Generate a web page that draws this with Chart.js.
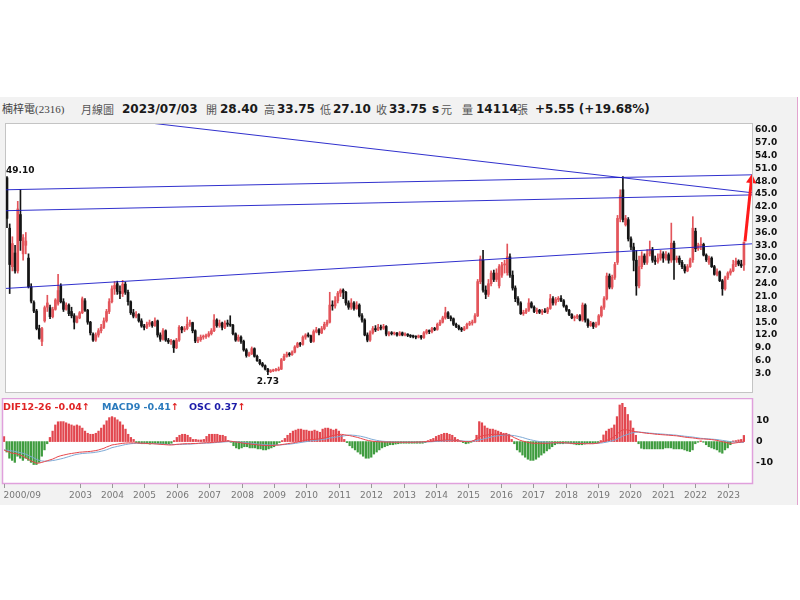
<!DOCTYPE html>
<html><head><meta charset="utf-8">
<script src="https://cdn.jsdelivr.net/npm/chart.js@4.4.1/dist/chart.umd.min.js"></script>
<style>
body{margin:0;background:#fff;width:800px;height:600px;position:relative;overflow:hidden;font-family:"DejaVu Sans",sans-serif}
#frame{position:absolute;left:0;top:97px;width:797px;height:408px;background:#f2f2f2;border-right:1px solid #e3a3cf}
.h{position:absolute;top:101px;font-size:12px;line-height:16px;white-space:nowrap;color:#1a1a1a}
.b{font-weight:bold;font-family:"DejaVu Sans"}
.c{font-family:"Noto Sans CJK TC";color:#555;font-size:11px}
canvas{position:absolute;left:0}
.lg{position:absolute;top:401px;font:bold 9.5px "DejaVu Sans";line-height:11px;white-space:nowrap}
</style></head>
<body>
<div id="frame"></div>
<span class="h" style="left:2px;font-size:11px;font-family:'Liberation Serif','Noto Sans CJK TC';color:#444">楠梓電(2316)</span>
<span class="h c" style="left:81px">月線圖</span>
<span class="h b" id="hDate" style="left:122px"></span>
<span class="h c" style="left:206px">開</span><span class="h b" id="hO" style="left:220px"></span>
<span class="h c" style="left:264px">高</span><span class="h b" id="hH" style="left:277px"></span>
<span class="h c" style="left:320px">低</span><span class="h b" id="hL" style="left:333px"></span>
<span class="h c" style="left:376px">收</span><span class="h b" id="hC" style="left:389px"></span>
<span class="h b" style="left:432px">s</span><span class="h c" style="left:441px">元</span>
<span class="h c" style="left:462px">量</span><span class="h b" id="hV" style="left:476px"></span>
<span class="h c" style="left:517px">張</span><span class="h b" id="hChg" style="left:535px"></span>
<canvas id="price" width="797" height="280" style="top:118px"></canvas>
<canvas id="macd" width="797" height="108" style="top:398px"></canvas>
<div class="lg" style="left:3px;color:#e02424"><span id="lDif"></span><span style="color:#e02424">↑</span></div>
<div class="lg" style="left:102px;color:#2b7bbd"><span id="lMacd"></span><span style="color:#e02424">↑</span></div>
<div class="lg" style="left:189px;color:#1a1aa8"><span id="lOsc"></span><span style="color:#e02424">↑</span></div>
<script>
// ---- data (monthly, 2000/09 .. 2023/07) ----
const quoteDate = '2023/07/03';
const volume = 14114;
const open = [48.8,37.0,28.0,31.2,
27.0,40.2,31.0,33.0,30.0,23.3,19.6,17.6,13.5,10.5,15.3,18.5,
18.4,16.3,18.0,19.4,23.5,19.8,18.0,19.0,17.5,16.5,15.0,16.0,
17.2,20.0,17.8,15.0,12.2,10.8,12.0,13.0,13.8,15.3,17.5,19.8,
22.8,24.0,22.2,21.7,23.9,22.0,19.8,17.2,16.4,16.8,15.3,14.1,
13.8,14.5,14.9,14.2,15.3,12.0,11.0,13.0,10.8,10.4,10.6,9.0,
10.8,13.8,13.2,13.5,14.5,14.9,13.0,10.6,10.9,11.5,11.6,11.8,
12.3,13.0,15.5,14.2,14.8,13.8,14.8,14.5,14.3,12.3,10.8,11.5,
10.5,8.5,7.2,7.6,8.8,7.0,6.0,5.3,4.8,4.0,3.4,3.6,
3.7,3.8,4.0,6.2,7.0,7.5,7.4,8.0,9.2,10.0,9.8,11.5,
12.0,11.8,10.5,12.8,13.2,12.5,13.5,14.5,15.0,19.0,18.8,20.0,
21.8,22.5,22.0,19.5,18.5,19.5,18.2,19.0,16.5,15.5,12.0,10.8,
12.5,13.5,13.2,13.8,13.6,14.0,12.2,12.5,12.3,12.4,12.0,12.5,
12.0,12.2,11.9,11.7,11.6,11.5,11.8,11.4,12.5,13.0,12.8,13.5,
13.3,14.5,15.0,16.0,17.2,16.2,15.8,14.5,14.0,13.5,13.2,13.6,
14.5,14.8,15.0,16.5,24.5,29.5,22.5,21.5,24.0,26.5,25.0,23.5,
26.0,28.4,26.6,30.3,26.0,23.0,20.5,19.5,17.0,17.3,17.8,19.5,
18.5,17.5,17.8,17.3,17.6,17.4,18.2,20.5,19.5,20.3,20.6,20.0,
18.8,17.8,16.8,16.0,16.2,16.5,15.5,19.0,15.5,14.2,14.8,14.0,
14.5,16.5,18.5,20.5,25.8,23.2,25.5,29.0,39.3,46.0,37.8,39.0,
34.5,32.6,29.5,23.5,28.0,30.5,29.0,31.0,32.0,29.5,29.2,30.0,
31.0,30.0,30.8,29.5,33.5,29.6,30.0,29.0,28.0,27.0,28.0,29.6,
36.3,32.2,33.0,33.2,30.7,29.0,30.0,28.0,26.2,26.8,24.7,22.8,
25.4,26.5,27.0,28.5,29.3,28.6,28.40];
const high = [49.1,38.0,35.0,33.0,
43.3,46.0,35.5,36.0,31.0,24.0,20.0,18.0,14.3,13.8,18.8,21.3,
19.0,18.5,20.5,26.2,24.0,20.5,19.5,19.3,18.5,17.0,16.5,17.5,
20.9,20.5,18.0,15.2,12.5,12.5,13.5,14.5,16.0,18.0,20.5,23.5,
24.5,24.6,23.5,24.8,24.4,22.5,20.0,18.0,17.5,17.0,15.8,14.5,
15.0,15.5,15.2,16.0,15.5,12.5,13.5,13.2,11.2,11.0,10.8,11.2,
14.2,14.0,14.0,16.2,15.5,15.0,13.2,11.5,12.0,12.0,12.2,12.8,
13.5,16.8,15.8,15.5,15.0,15.3,15.5,16.5,14.5,12.5,12.0,11.8,
10.8,8.8,8.0,9.2,9.0,7.3,6.3,5.6,5.0,4.2,3.9,4.0,
4.2,4.5,6.5,7.5,8.0,7.9,8.3,9.5,10.3,10.3,11.8,12.3,
12.5,12.0,13.2,13.8,13.5,14.0,15.0,15.5,22.0,20.0,21.0,22.2,
22.8,22.8,22.2,20.0,20.5,19.8,19.8,19.3,17.0,15.8,12.5,13.0,
14.0,14.2,14.5,14.3,14.5,14.2,12.8,12.8,12.7,12.6,12.8,12.7,
12.5,12.3,12.1,12.0,11.8,12.0,11.9,12.8,13.3,13.2,13.8,13.8,
14.8,15.5,16.4,18.5,17.5,16.5,16.0,14.8,14.3,13.8,14.0,14.8,
15.2,15.5,17.0,25.0,30.5,31.8,23.5,25.0,27.0,27.2,27.5,28.5,
29.0,29.5,33.3,31.0,27.0,23.5,21.0,19.8,17.8,18.2,20.5,19.8,
18.8,18.3,18.0,18.0,18.2,18.5,21.5,21.0,20.8,21.0,21.2,20.3,
19.0,18.0,17.0,16.5,16.8,16.8,19.5,19.3,15.8,15.2,15.0,15.0,
16.8,18.8,21.0,26.5,26.3,26.0,29.0,40.0,46.0,49.1,40.0,39.5,
35.0,33.5,31.8,30.5,31.5,31.0,32.0,34.0,32.5,30.5,31.0,31.8,
31.5,31.5,31.2,38.2,34.0,30.5,30.5,29.5,28.5,28.5,30.0,39.7,
37.0,33.5,34.8,33.5,31.0,30.5,30.3,28.3,27.5,27.0,25.0,25.8,
26.8,27.5,29.5,30.0,29.6,29.5,33.75];
const low = [37.1,21.7,27.0,26.5,
26.5,31.8,29.5,31.0,23.0,19.5,17.2,13.2,11.0,9.5,15.0,17.5,
15.8,16.0,17.8,19.0,19.5,17.5,17.8,16.5,16.0,13.4,14.8,15.8,
17.0,17.5,14.5,12.0,10.5,10.5,11.5,12.5,13.5,15.0,17.0,19.5,
21.5,21.5,20.5,21.0,21.5,19.0,16.8,16.0,16.0,15.0,13.8,13.2,
13.5,14.0,13.8,14.0,11.5,10.5,10.8,10.5,10.0,9.8,7.9,8.8,
10.5,12.5,12.8,13.2,14.0,12.5,10.2,10.2,10.5,11.0,11.2,11.5,
12.0,12.8,13.8,13.8,13.2,13.5,14.0,14.0,12.0,10.5,10.5,10.0,
8.2,6.8,7.0,7.4,6.8,5.8,5.0,4.5,3.8,2.73,3.2,3.4,
3.5,3.6,3.9,6.0,6.8,7.0,7.2,7.8,9.0,9.3,9.6,11.0,
11.5,10.2,10.3,12.5,12.0,12.3,13.2,14.0,14.8,17.8,18.3,19.5,
21.0,20.5,19.0,18.0,18.0,17.8,18.0,16.2,15.0,11.8,10.4,10.5,
12.2,12.8,13.0,13.2,13.3,11.8,11.8,12.0,12.0,11.7,11.8,11.8,
11.8,11.6,11.4,11.3,11.1,11.3,11.0,11.2,12.2,12.3,12.5,13.0,
13.1,14.2,14.8,15.7,15.8,15.3,14.2,13.7,13.2,12.8,13.0,13.4,
14.2,14.3,14.8,16.3,24.0,22.0,20.5,21.0,23.5,24.5,24.5,23.0,
25.5,26.5,26.0,25.5,22.5,19.8,19.0,16.8,16.6,17.0,17.5,18.3,
17.2,17.0,17.0,16.8,17.2,17.0,18.0,19.0,19.0,19.8,19.8,18.5,
17.5,16.5,15.8,15.3,15.8,15.3,15.2,15.0,13.8,14.0,13.5,13.8,
14.3,16.2,18.0,20.2,22.8,22.8,25.0,28.5,38.5,38.5,37.5,34.0,
32.0,27.0,21.3,23.0,27.5,28.5,28.5,30.5,29.0,28.5,28.8,29.5,
29.0,29.5,28.8,29.0,25.0,29.0,28.5,27.5,26.5,26.8,27.8,29.0,
31.5,31.8,32.0,30.5,29.2,28.5,27.8,26.0,25.8,24.5,21.3,22.5,
25.0,26.0,26.8,28.0,28.2,27.8,27.10];
const close = [39.3,28.5,33.4,27.0,
41.5,34.1,34.8,34.0,23.3,19.9,17.6,13.5,11.2,13.5,18.4,19.5,
16.3,18.0,20.2,22.4,19.8,18.0,19.0,17.0,16.5,15.0,16.2,17.2,
20.5,17.8,15.0,12.5,10.8,12.0,13.0,13.8,15.3,17.5,19.8,22.8,
23.6,22.2,21.7,23.9,22.0,19.8,17.2,16.4,16.8,15.3,14.1,13.8,
14.5,14.9,14.2,15.3,12.0,11.0,13.0,10.8,10.4,10.6,9.0,10.8,
13.8,13.2,13.5,14.5,14.9,13.0,10.6,10.9,11.5,11.6,11.8,12.3,
13.0,15.5,14.2,14.8,13.8,14.8,14.5,14.3,12.3,10.8,11.5,10.5,
8.5,7.2,7.6,8.8,7.0,6.0,5.3,4.8,4.0,3.4,3.6,3.7,
3.8,4.0,6.2,7.0,7.5,7.4,8.0,9.2,10.0,9.8,11.5,12.0,
11.8,10.5,12.8,13.2,12.5,13.5,14.5,15.0,19.0,18.8,20.0,21.8,
22.5,22.0,19.5,18.5,19.5,18.2,19.0,16.5,15.5,12.0,10.8,12.5,
13.5,13.2,13.8,13.6,14.0,12.2,12.5,12.3,12.4,12.0,12.5,12.0,
12.2,11.9,11.7,11.6,11.5,11.8,11.4,12.5,13.0,12.8,13.5,13.3,
14.5,15.0,16.0,17.2,16.2,15.8,14.5,14.0,13.5,13.2,13.6,14.5,
14.8,15.0,16.5,24.5,29.8,22.5,21.5,24.0,26.5,25.0,26.5,28.0,
28.4,28.5,30.3,26.0,23.0,20.5,19.5,17.0,17.3,17.8,19.5,18.5,
17.5,17.8,17.3,17.6,17.4,18.2,20.5,19.5,20.3,20.6,20.0,18.8,
17.8,16.8,16.0,16.2,16.5,15.5,19.0,15.5,14.2,14.8,14.0,14.5,
16.5,18.5,20.5,25.8,23.2,25.5,28.5,39.3,44.6,39.0,39.3,34.5,
32.6,29.5,23.5,28.0,30.5,29.0,31.0,32.0,29.5,29.2,30.0,31.0,
30.0,30.8,29.5,33.5,29.6,30.0,29.0,28.0,27.0,28.0,29.6,37.0,
32.2,33.0,33.2,30.7,29.6,30.0,28.0,26.2,26.8,24.7,22.8,25.4,
26.5,27.0,28.5,29.3,28.6,28.2,33.75];
const dif = [-4.0,-4.6,-5.0,-5.6,
-5.6,-6.0,-6.5,-7.0,-7.8,-8.5,-9.3,-9.8,-10.4,-10.3,-10.0,-9.6,
-9.2,-8.8,-8.4,-7.8,-7.2,-6.8,-6.5,-6.2,-5.9,-5.7,-5.5,-5.3,
-5.1,-5.0,-4.9,-4.8,-4.7,-4.5,-4.3,-4.0,-3.6,-3.2,-2.6,-2.1,
-1.6,-1.4,-1.2,-1.0,-0.8,-0.7,-0.6,-0.6,-0.6,-0.6,-0.7,-0.8,
-0.8,-0.9,-1.0,-1.0,-1.1,-1.2,-1.3,-1.4,-1.5,-1.6,-1.6,-1.5,
-1.3,-1.2,-1.1,-1.0,-1.0,-1.0,-0.9,-0.9,-0.8,-0.7,-0.6,-0.5,
-0.5,-0.4,-0.3,-0.2,-0.1,0.0,0.2,0.3,0.2,0.0,-0.2,-0.3,
-0.6,-0.8,-1.0,-1.1,-1.3,-1.4,-1.6,-1.7,-1.8,-1.9,-1.9,-1.9,
-1.8,-1.7,-1.6,-1.4,-1.2,-1.0,-0.8,-0.6,-0.4,-0.1,0.2,0.5,
0.8,0.9,1.0,1.1,1.2,1.4,1.6,1.9,2.3,2.7,3.0,3.2,
3.5,3.5,3.3,3.1,2.9,2.6,2.3,2.0,1.6,1.2,0.8,0.5,
0.3,0.1,0.0,-0.1,-0.1,-0.2,-0.2,-0.2,-0.3,-0.3,-0.3,-0.3,
-0.3,-0.3,-0.3,-0.3,-0.3,-0.2,-0.2,-0.1,0.0,0.0,0.1,0.2,
0.4,0.5,0.6,0.7,0.8,0.8,0.7,0.6,0.5,0.3,0.1,0.0,
0.0,0.1,0.6,1.3,2.4,2.7,3.0,3.2,3.4,3.5,3.5,3.5,
3.4,3.3,3.2,3.0,2.6,1.9,1.3,0.7,0.3,0.0,-0.4,-0.6,
-0.8,-0.8,-0.8,-0.8,-0.8,-0.8,-0.7,-0.6,-0.5,-0.5,-0.5,-0.5,
-0.6,-0.7,-0.8,-0.9,-0.9,-0.9,-0.9,-1.0,-1.0,-1.0,-1.0,-0.9,
-0.7,-0.3,0.0,0.5,1.0,1.5,2.5,3.5,4.8,5.6,5.7,5.6,
5.3,4.9,4.8,4.6,4.4,4.2,4.0,3.9,3.8,3.6,3.5,3.4,
3.3,3.2,3.1,3.0,2.9,2.8,2.6,2.4,2.2,2.0,1.9,1.8,
1.6,1.4,1.3,1.3,1.2,1.1,1.0,0.8,0.6,0.3,0.0,-0.3,
-0.6,-0.8,-0.8,-0.6,-0.4,-0.2,-0.04];
const macd9 = [-4.0,-4.1,-4.3,-4.5,
-4.7,-5.0,-5.3,-5.6,-6.0,-6.6,-7.2,-7.8,-8.5,-9.0,-9.3,-9.4,
-9.4,-9.3,-9.1,-8.9,-8.6,-8.3,-8.0,-7.6,-7.2,-6.8,-6.4,-6.1,
-5.9,-5.7,-5.6,-5.5,-5.4,-5.3,-5.1,-4.9,-4.6,-4.3,-3.9,-3.4,
-2.9,-2.6,-2.3,-2.0,-1.7,-1.4,-1.2,-1.0,-0.9,-0.8,-0.8,-0.8,
-0.8,-0.8,-0.9,-0.9,-1.0,-1.0,-1.1,-1.2,-1.3,-1.4,-1.4,-1.4,
-1.4,-1.4,-1.3,-1.3,-1.2,-1.2,-1.1,-1.0,-0.9,-0.8,-0.8,-0.7,
-0.7,-0.6,-0.5,-0.4,-0.3,-0.2,-0.1,0.0,0.0,0.0,-0.1,-0.2,
-0.3,-0.4,-0.6,-0.7,-0.9,-1.0,-1.2,-1.3,-1.4,-1.5,-1.6,-1.6,
-1.6,-1.6,-1.6,-1.5,-1.4,-1.3,-1.2,-1.0,-0.8,-0.6,-0.4,-0.2,
0.0,0.2,0.4,0.5,0.7,0.8,1.0,1.2,1.5,1.8,2.0,2.2,
2.4,2.6,2.8,3.0,3.2,3.1,3.0,2.8,2.6,2.3,2.0,1.6,
1.2,0.9,0.6,0.4,0.2,0.1,0.0,-0.1,-0.1,-0.2,-0.2,-0.2,
-0.2,-0.2,-0.2,-0.2,-0.2,-0.2,-0.2,-0.2,-0.2,-0.1,-0.1,0.0,
0.1,0.2,0.3,0.4,0.5,0.5,0.6,0.6,0.5,0.4,0.3,0.2,
0.2,0.2,0.3,0.5,0.8,1.1,1.4,1.7,2.1,2.4,2.6,2.8,
3.0,3.1,3.2,3.2,3.0,2.9,2.6,2.3,2.0,1.6,1.2,0.9,
0.6,0.3,0.1,-0.1,-0.2,-0.3,-0.4,-0.5,-0.5,-0.6,-0.6,-0.6,
-0.6,-0.7,-0.7,-0.8,-0.8,-0.8,-0.8,-0.9,-0.9,-0.9,-0.9,-0.9,
-0.8,-0.7,-0.5,-0.3,0.0,0.3,0.7,1.2,1.9,2.6,3.1,3.5,
4.0,4.3,4.5,4.6,4.5,4.4,4.3,4.1,4.0,3.9,3.8,3.7,
3.6,3.5,3.4,3.3,3.2,3.1,2.9,2.8,2.6,2.5,2.3,2.2,
2.0,1.8,1.6,1.5,1.4,1.3,1.2,1.1,1.0,0.8,0.6,0.4,
0.2,0.0,-0.2,-0.3,-0.4,-0.4,-0.41];
const osc = [0.30,-0.63,-1.00,-1.13,
-1.25,-0.88,-1.00,-1.13,-1.00,-1.13,-1.25,-1.38,-1.38,-1.25,-0.88,-0.50,
-0.13,0.25,0.63,1.00,1.19,1.20,1.20,1.13,1.06,1.00,0.94,1.00,
0.94,0.81,0.63,0.50,0.44,0.44,0.50,0.63,0.81,1.00,1.25,1.44,
1.50,1.44,1.31,1.19,1.00,0.75,0.44,0.25,0.13,-0.06,-0.10,-0.13,
-0.13,-0.13,-0.15,-0.13,-0.13,-0.13,-0.15,-0.15,-0.13,-0.13,-0.10,0.06,
0.25,0.38,0.44,0.44,0.38,0.25,0.13,0.13,0.10,0.10,0.13,0.31,
0.44,0.44,0.44,0.44,0.38,0.38,0.31,0.06,-0.04,-0.25,-0.38,-0.44,
-0.38,-0.31,-0.31,-0.38,-0.38,-0.38,-0.44,-0.44,-0.50,-0.50,-0.44,-0.38,
-0.31,-0.19,-0.06,0.06,0.19,0.38,0.50,0.63,0.69,0.75,0.75,0.69,
0.69,0.63,0.63,0.69,0.63,0.56,0.75,0.81,0.81,0.75,0.69,0.75,
0.63,0.38,0.13,-0.06,-0.25,-0.38,-0.50,-0.63,-0.75,-0.88,-1.00,-1.00,
-0.94,-0.75,-0.63,-0.50,-0.38,-0.31,-0.25,-0.19,-0.19,-0.15,-0.13,-0.10,
-0.10,-0.10,-0.10,-0.10,-0.10,-0.10,-0.10,-0.10,-0.06,0.06,0.13,0.19,
0.31,0.38,0.44,0.50,0.50,0.44,0.38,0.25,0.13,0.04,-0.06,-0.13,
-0.10,-0.04,0.06,0.38,1.20,1.13,0.94,0.81,0.75,0.75,0.69,0.63,
0.56,0.50,0.50,0.44,0.13,-0.13,-0.50,-0.63,-0.81,-0.94,-1.06,-1.13,
-1.13,-1.06,-0.94,-0.81,-0.69,-0.56,-0.44,-0.31,-0.19,-0.13,-0.13,-0.13,
-0.10,-0.10,-0.13,-0.15,-0.19,-0.19,-0.19,-0.15,-0.13,-0.13,-0.13,-0.10,
-0.06,0.06,0.40,0.63,0.75,0.81,1.00,1.50,2.20,2.30,2.06,1.63,
1.25,0.81,0.38,-0.13,-0.40,-0.44,-0.44,-0.44,-0.44,-0.44,-0.44,-0.44,
-0.44,-0.38,-0.38,-0.38,-0.44,-0.44,-0.44,-0.44,-0.50,-0.56,-0.60,-0.50,
-0.13,-0.04,0.04,-0.04,-0.19,-0.31,-0.38,-0.44,-0.50,-0.63,-0.70,-0.50,
-0.38,-0.19,0.04,0.06,0.10,0.13,0.37];
// trend lines drawn on the chart, in (month index, price)
const trendUpper = [{x:-0.4,y:46.0},{x:277,y:49.5}];
const trendMiddle = [{x:-0.4,y:41.1},{x:277,y:44.8}];
const trendLower = [{x:-0.4,y:22.9},{x:277,y:33.35}];
const trendDown = [{x:40,y:62.6},{x:277,y:45.3}];
const targetArrow = [{x:274.4,y:33.9},{x:276.8,y:48.3}];
// tick labels
const priceTicks = [3,6,9,12,15,18,21,24,27,30,33,36,39,42,45,48,51,54,57,60];
const macdTicks = [-10,0,10];
const xLabelText = ['2000/09','2003','2004','2005','2006','2007','2008','2009','2010','2011','2012','2013','2014','2015','2016','2017','2018','2019','2020','2021','2022','2023'];
const xLabelIdx = [0,28,40,52,64,76,88,100,112,124,136,148,160,172,184,196,208,220,232,244,256,268];

// ---- header / legend text ----
const L = close.length - 1;
const chg = close[L] - close[L-1];
document.getElementById('hDate').textContent = quoteDate;
document.getElementById('hO').textContent = open[L].toFixed(2);
document.getElementById('hH').textContent = high[L].toFixed(2);
document.getElementById('hL').textContent = low[L].toFixed(2);
document.getElementById('hC').textContent = close[L].toFixed(2);
document.getElementById('hV').textContent = String(volume);
document.getElementById('hChg').textContent = (chg>=0?'+':'') + chg.toFixed(2) + ' (' + (chg>=0?'+':'') + (chg/close[L-1]*100).toFixed(2) + '%)';
document.getElementById('lDif').textContent = 'DIF12-26 ' + dif[L].toFixed(2);
document.getElementById('lMacd').textContent = 'MACD9 ' + macd9[L].toFixed(2);
document.getElementById('lOsc').textContent = 'OSC ' + osc[L].toFixed(2);

// ---- charts ----
Chart.defaults.font.family = '"DejaVu Sans", sans-serif';
const RED = '#e3555b', BLK = '#151515';
const idx = close.map((_, i) => i);
const candleCol = idx.map(i => close[i] >= open[i] ? RED : BLK);
const X_MIN = -0.37, X_MAX = 277;
const fitRight = s => { s.width = 45; s.paddingTop = 0; s.paddingBottom = 0; };

const priceDeco = {
  id: 'priceDeco',
  beforeDraw(c) {
    const a = c.chartArea, ctx = c.ctx;
    ctx.save(); ctx.fillStyle = '#fff';
    ctx.fillRect(a.left, a.top, a.right - a.left, a.bottom - a.top); ctx.restore();
  },
  afterDraw(c) {
    const a = c.chartArea, ctx = c.ctx, xs = c.scales.x, ys = c.scales.y;
    ctx.save();
    ctx.strokeStyle = '#c4c4c4'; ctx.lineWidth = 1;
    ctx.strokeRect(a.left - 0.5, a.top - 0.5, a.right - a.left + 1, a.bottom - a.top + 1);
    const hi = Math.max(...high), iHi = high.indexOf(hi);
    const lo = Math.min(...low), iLo = low.indexOf(lo);
    ctx.font = 'bold 9px "DejaVu Sans"'; ctx.fillStyle = '#111';
    ctx.textAlign = 'left'; ctx.textBaseline = 'bottom';
    ctx.fillText(hi.toFixed(2), xs.getPixelForValue(iHi) - 1, ys.getPixelForValue(hi) - 1);
    ctx.textAlign = 'center'; ctx.textBaseline = 'top';
    ctx.fillText(lo.toFixed(2), xs.getPixelForValue(iLo), ys.getPixelForValue(lo) + 3);
    ctx.restore();
  }
};

const trendStyle = {type:'line', borderColor:'rgba(25,25,200,0.9)', borderWidth:1, pointRadius:0, order:1};
new Chart(document.getElementById('price'), {
  type: 'bar',
  data: { datasets: [
    {type:'bar', data: idx.map(i => ({x:i, y:[low[i], high[i]]})), backgroundColor: candleCol, barThickness: 1, grouped:false, order:3},
    {type:'bar', data: idx.map(i => ({x:i, y:[open[i], close[i]]})), backgroundColor: candleCol, barThickness: 2, minBarLength: 1, grouped:false, order:2},
    Object.assign({data: trendUpper}, trendStyle),
    Object.assign({data: trendMiddle}, trendStyle),
    Object.assign({data: trendLower}, trendStyle),
    Object.assign({data: trendDown}, trendStyle),
    {type:'line', data: targetArrow, borderColor:'#ff1a1a', borderWidth:3, pointRadius:[0,6], pointStyle:'triangle', pointRotation:5,
     pointBackgroundColor:'#ff1a1a', pointBorderWidth:0, order:0, clip:10}
  ]},
  options: {
    responsive:false, animation:false, events:[],
    layout:{padding:{left:3, top:1, bottom:1, right:0}},
    plugins:{legend:{display:false}, tooltip:{enabled:false}},
    scales:{
      x:{type:'linear', min:X_MIN, max:X_MAX, offset:false, display:false},
      y:{position:'right', min:-1.35, max:61.4,
         afterBuildTicks: s => { s.ticks = priceTicks.map(v => ({value:v})); },
         afterFit: fitRight,
         ticks:{callback: v => Number(v).toFixed(1), color:'#111', font:{size:9, weight:'bold'}, padding:3},
         grid:{display:false, drawTicks:false}, border:{display:true, color:'#c4c4c4'}}
    }
  },
  plugins:[priceDeco]
});

const macdDeco = {
  id: 'macdDeco',
  beforeDraw(c) {
    const a = c.chartArea, ctx = c.ctx;
    ctx.save(); ctx.fillStyle = '#fff';
    ctx.fillRect(a.left, a.top, a.right - a.left, a.bottom - a.top); ctx.restore();
  },
  afterDraw(c) {
    const a = c.chartArea, ctx = c.ctx, xs = c.scales.x;
    ctx.save();
    ctx.strokeStyle = '#e0a0dc'; ctx.lineWidth = 1.5;
    ctx.strokeRect(a.left - 0.5, a.top - 0.5, a.right - a.left + 1, a.bottom - a.top + 1);
    ctx.strokeStyle = '#999'; ctx.lineWidth = 1;
    ctx.font = '9px "DejaVu Sans"'; ctx.fillStyle = '#777'; ctx.textBaseline = 'middle';
    xLabelIdx.forEach((m, k) => {
      const px = Math.round(xs.getPixelForValue(m)) + 0.5;
      ctx.beginPath(); ctx.moveTo(px, a.bottom + 1); ctx.lineTo(px, a.bottom + 5); ctx.stroke();
      ctx.textAlign = k === 0 ? 'left' : 'center';
      ctx.fillText(xLabelText[k], k === 0 ? px - 1 : px, a.bottom + 13);
    });
    ctx.restore();
  }
};

new Chart(document.getElementById('macd'), {
  type: 'bar',
  data: { datasets: [
    {type:'bar', yAxisID:'yOsc', data: idx.map(i => ({x:i, y:osc[i]})), backgroundColor: osc.map(v => v >= 0 ? '#e2474f' : '#3f9c3f'), barThickness: 1.6, grouped:false, order:2},
    {type:'line', yAxisID:'y', data: idx.map(i => ({x:i, y:macd9[i]})), borderColor:'#7eaad6', borderWidth:1, pointRadius:0, order:1},
    {type:'line', yAxisID:'y', data: idx.map(i => ({x:i, y:dif[i]})), borderColor:'#e8474c', borderWidth:1, pointRadius:0, order:0}
  ]},
  options: {
    responsive:false, animation:false, events:[],
    layout:{padding:{left:3, top:1, bottom:23, right:0}},
    plugins:{legend:{display:false}, tooltip:{enabled:false}},
    scales:{
      x:{type:'linear', min:X_MIN, max:X_MAX, offset:false, display:false},
      y:{position:'right', min:-19.9, max:20.5,
         afterBuildTicks: s => { s.ticks = macdTicks.map(v => ({value:v})); },
         afterFit: fitRight,
         ticks:{color:'#111', font:{size:9.5, weight:'bold'}, padding:4},
         grid:{display:false, drawTicks:false}, border:{display:false}},
      yOsc:{display:false, min:-2.49, max:2.56, afterFit: s => { s.paddingTop = 0; s.paddingBottom = 0; }}
    }
  },
  plugins:[macdDeco]
});
</script>
</body></html>
